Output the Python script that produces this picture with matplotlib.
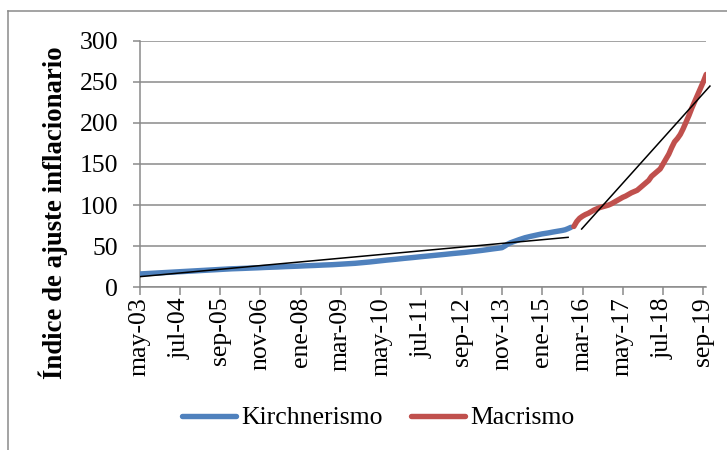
import matplotlib
matplotlib.use("Agg")
import matplotlib.pyplot as plt
from matplotlib.lines import Line2D

# ---------------- data ----------------
month_abbr = ["ene", "feb", "mar", "abr", "may", "jun", "jul", "ago", "sep", "oct", "nov", "dic"]
# monthly categories: may-03 ... oct-19
categories = []
for yr in range(2003, 2020):
    for mi, ab in enumerate(month_abbr):
        if (yr == 2003 and mi < 4) or (yr == 2019 and mi > 9):
            continue
        categories.append(f"{ab}-{yr % 100:02d}")

# Kirchnerismo: may-03 .. nov-15
kirchnerismo = [
    16.2, 16.4, 16.6, 16.8, 17.0, 17.2, 17.4, 17.6, 17.8, 18.0, 18.2, 18.4, 18.6, 18.8, 19.0,
    19.2, 19.4, 19.6, 19.9, 20.1, 20.3, 20.5, 20.7, 20.9, 21.1, 21.3, 21.5, 21.7, 21.9,
    22.0, 22.2, 22.3, 22.5, 22.6, 22.7, 22.9, 23.0, 23.2, 23.3, 23.4, 23.6, 23.7, 23.9,
    24.0, 24.2, 24.3, 24.5, 24.6, 24.7, 24.9, 25.0, 25.2, 25.3, 25.4, 25.6, 25.7, 25.9,
    26.0, 26.2, 26.3, 26.5, 26.6, 26.8, 26.9, 27.1, 27.2, 27.4, 27.5, 27.7, 27.8, 28.0,
    28.2, 28.4, 28.6, 28.9, 29.2, 29.5, 29.8, 30.1, 30.5, 30.8, 31.2, 31.6, 32.0, 32.4,
    32.7, 33.1, 33.4, 33.8, 34.1, 34.5, 34.8, 35.2, 35.5, 35.9, 36.2, 36.6, 36.9, 37.3,
    37.6, 38.0, 38.3, 38.7, 39.0, 39.3, 39.7, 40.0, 40.4, 40.7, 41.1, 41.4, 41.8, 42.1,
    42.4, 42.8, 43.2, 43.6, 44.0, 44.4, 44.9, 45.4, 45.8, 46.3, 46.8, 47.2, 47.7, 48.2,
    50.2, 52.5, 54.2, 55.5, 56.8, 58.0, 59.2, 60.3, 61.2, 62.0, 62.8, 63.6, 64.3, 65.0,
    65.5, 66.1, 66.8, 67.4, 68.0, 68.6, 69.2, 70.0, 71.4, 73.0,
]
# Macrismo: dic-15 .. oct-19
macrismo = [
    74, 80, 84, 86.5, 88.5, 90, 92, 94, 95.5, 97, 98, 99,
    100, 101.5, 103.5, 105.5, 107.5, 109.5, 111, 113, 115, 116.5, 118, 121,
    124, 127, 130, 135, 138, 141, 144, 150, 156, 162, 170, 177,
    181, 186, 193, 201, 209, 218, 226, 234, 242, 250, 259,
]
# linear trend lines (month index, value)
kirch_trend_months = [0, 149]
kirch_trend_values = [12.9, 60.8]
macri_trend_months = [153.7, 198.3]
macri_trend_values = [70.9, 244.8]

tick_labels = ["may-03", "jul-04", "sep-05", "nov-06", "ene-08", "mar-09", "may-10",
               "jul-11", "sep-12", "nov-13", "ene-15", "mar-16", "may-17", "jul-18", "sep-19"]
y_ticks = [0, 50, 100, 150, 200, 250, 300]

# ---------------- plot ----------------
W, H = 727, 450
fig = plt.figure(figsize=(W / 100, H / 100), dpi=100)
left, right, bottom, top = 139.5, 706.2, 287.3, 40.7
ax = fig.add_axes([left / W, 1 - bottom / H, (right - left) / W, (bottom - top) / H])

serif = ["Liberation Serif", "DejaVu Serif"]
grid_col = "#8a8a8a"
blue = "#4F81BD"
red = "#C0504D"

n_k = len(kirchnerismo)
x_k = list(range(n_k))
x_m = list(range(n_k, n_k + len(macrismo)))

ax.plot(x_k, kirchnerismo, color=blue, lw=3.9, solid_capstyle="round",
        solid_joinstyle="round", label="Kirchnerismo", zorder=3)
ax.plot(x_m, macrismo, color=red, lw=3.9, solid_capstyle="round",
        solid_joinstyle="round", label="Macrismo", zorder=3)
ax.plot(kirch_trend_months, kirch_trend_values, color="black", lw=1.1, zorder=4)
ax.plot(macri_trend_months, macri_trend_values, color="black", lw=1.1, zorder=4, clip_on=False)

ax.set_xlim(0, len(categories) - 1)
ax.set_ylim(0, 300)
ax.set_yticks(y_ticks)
ax.set_yticklabels([str(v) for v in y_ticks], fontfamily=serif, fontsize=18.5)
tick_pos = [categories.index(t) for t in tick_labels]
ax.set_xticks(tick_pos)
ax.set_xticklabels(tick_labels, rotation=90, fontfamily=serif, fontsize=18.5)

ax.grid(axis="y", color=grid_col, lw=1.1)
ax.set_axisbelow(True)
for s in ["top", "right"]:
    ax.spines[s].set_visible(False)
for s in ["left", "bottom"]:
    ax.spines[s].set_color(grid_col)
    ax.spines[s].set_linewidth(1.1)
ax.tick_params(axis="y", length=5.4, width=1.1, color=grid_col, pad=10)
ax.tick_params(axis="x", length=5.4, width=1.1, color=grid_col, pad=1.5)

ax.set_ylabel("Índice de ajuste inflacionario", fontfamily=serif, fontsize=19.3,
              fontweight="bold", va="center")
ax.yaxis.set_label_coords((53 - left) / (right - left), (bottom - 212.5) / (bottom - top))

fig.legend(loc="center", bbox_to_anchor=(378 / W, 1 - 418 / H), ncol=2, frameon=False,
           prop={"family": serif, "size": 18.5}, handlelength=2.1, handletextpad=0.2,
           columnspacing=1.1, borderaxespad=0)

# chart-area border (cropped at right and bottom)
fig.add_artist(Line2D([8 / W, 1.0], [1 - 11 / H, 1 - 11 / H], color=grid_col, lw=1.1,
                      transform=fig.transFigure))
fig.add_artist(Line2D([8 / W, 8 / W], [0, 1 - 11 / H], color=grid_col, lw=1.1,
                      transform=fig.transFigure))

fig.savefig("out.png", dpi=100)
